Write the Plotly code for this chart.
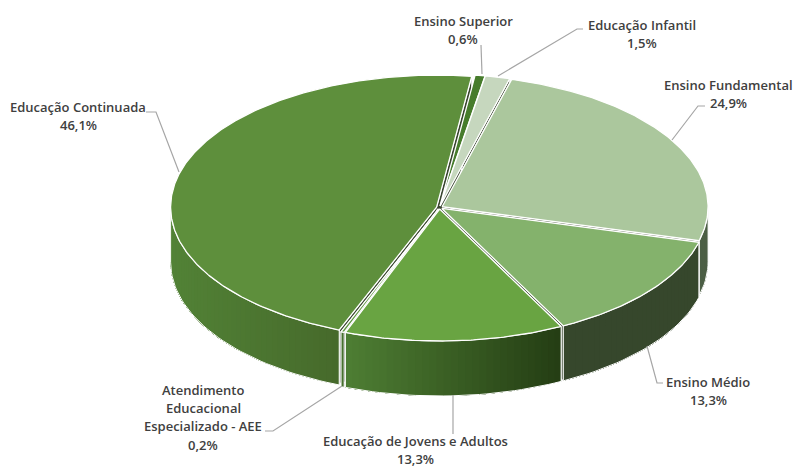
import numpy as np
import plotly.graph_objects as go

categories = ["Ensino Superior", "Educação Infantil", "Ensino Fundamental", "Ensino Médio",
              "Educação de Jovens e Adultos", "Atendimento Educacional Especializado - AEE",
              "Educação Continuada"]
values = [0.6, 1.5, 24.9, 13.3, 13.3, 0.2, 46.1]
pct_labels = ["0,6%", "1,5%", "24,9%", "13,3%", "13,3%", "0,2%", "46,1%"]
label_lines = [["Ensino Superior"], ["Educação Infantil"], ["Ensino Fundamental"], ["Ensino Médio"],
               ["Educação de Jovens e Adultos"], ["Atendimento", "Educacional", "Especializado - AEE"],
               ["Educação Continuada"]]

# style / geometry of the projected pie
top_colors = ["#477c2c", "#c6d7be", "#abc79d", "#84b26c", "#69a442", "#5f9640", "#5e8f3c"]
wall_left = ["#3a6424", "#8fa885", "#4c5f45", "#36472c", "#4e7e33", "#4a7a30", "#528236"]
wall_right = ["#3a6424", "#8fa885", "#4c5f45", "#36472c", "#243d14", "#42642a", "#466a2b"]
face_color = "#39452f"
CX, CY, RX, RY, DEPTH, EXPLODE, START = 439.5, 207.5, 266, 132, 55, 3.0, 7.6
label_pos = [(463, 21), (642, 25), (728, 85), (708, 382), (415, 440.5), (203, 390), (78, 107)]
leaders = [[(481, 45), (482, 74)], [(583, 29), (577, 29), (498, 76)],
           [(705, 106), (698, 106), (672, 140)], [(663, 383), (657, 383), (647, 346)],
           [(453, 434), (453, 395)], [(265, 431), (273, 431), (342, 386)],
           [(146, 112), (156, 112), (179, 172)]]
LINE_H = 18.2

fig = go.Figure()


def poly(xs, ys, fill, line=None, width=0.0):
    fig.add_trace(go.Scatter(x=list(xs), y=list(ys), mode="lines", fill="toself", fillcolor=fill,
                             line=dict(color=line or fill, width=width), hoverinfo="skip", showlegend=False))


def mix(a, b, t):
    ca = [int(a[i:i + 2], 16) for i in (1, 3, 5)]
    cb = [int(b[i:i + 2], 16) for i in (1, 3, 5)]
    return "#%02x%02x%02x" % tuple(round(p + (q - p) * t) for p, q in zip(ca, cb))


total = sum(values)
edges = START + np.cumsum([0] + values) * 360 / total
slices = []
for i in range(len(values)):
    a0, a1 = edges[i], edges[i + 1]
    mid = np.radians((a0 + a1) / 2)
    ox = CX + EXPLODE * np.sin(mid)
    oy = CY - EXPLODE * np.cos(mid) * RY / RX
    slices.append((i, a0, a1, ox, oy))

# painter's order: back to front
order = sorted(slices, key=lambda s: -np.cos(np.radians((s[1] + s[2]) / 2)))
for i, a0, a1, ox, oy in order:
    th = np.radians(np.linspace(a0, a1, max(int((a1 - a0) * 2), 4)))
    ex = ox + RX * np.sin(th)
    ey = oy - RY * np.cos(th)
    # cut faces
    for k in (0, -1):
        poly([ox, ex[k], ex[k], ox], [oy, ey[k], ey[k] + DEPTH, oy + DEPTH], face_color, "#ffffff", 1)
    # outer wall, front half only
    lo, hi = max(a0, 90), min(a1, 270)
    if hi > lo:
        n = max(int((hi - lo) / 1.5), 2)
        ws = np.radians(np.linspace(lo, hi, n + 1))
        wx = ox + RX * np.sin(ws)
        wy = oy - RY * np.cos(ws)
        xmin, xmax = wx.min(), wx.max()
        # each band runs to the end of the wall and is overpainted by the next: no seams
        for j in range(n):
            t = ((wx[j] + wx[j + 1]) / 2 - xmin) / max(xmax - xmin, 1)
            poly(list(wx[j:]) + list(wx[j:][::-1]),
                 list(wy[j:]) + list((wy[j:] + DEPTH)[::-1]),
                 mix(wall_left[i], wall_right[i], t))
        fig.add_trace(go.Scatter(x=list(wx) + list(wx[::-1]) + [wx[0]],
                                 y=list(wy) + list(wy[::-1] + DEPTH) + [wy[0]],
                                 mode="lines", line=dict(color="#ffffff", width=1),
                                 hoverinfo="skip", showlegend=False))

# tops are all at one level, so they go over every wall and cut face
for i, a0, a1, ox, oy in order:
    th = np.radians(np.linspace(a0, a1, max(int((a1 - a0) * 2), 4)))
    ex = ox + RX * np.sin(th)
    ey = oy - RY * np.cos(th)
    poly([ox] + list(ex) + [ox], [oy] + list(ey) + [oy], top_colors[i], "#ffffff", 1.3)

# leader lines
for seg in leaders:
    fig.add_trace(go.Scatter(x=[p[0] for p in seg], y=[p[1] for p in seg], mode="lines",
                             line=dict(color="#a6a6a6", width=1.2), hoverinfo="skip", showlegend=False))

# labels
for lines, pct, (lx, ly) in zip(label_lines, pct_labels, label_pos):
    for k, text in enumerate(lines + [pct]):
        fig.add_annotation(x=lx, y=ly + k * LINE_H, text=text, showarrow=False, xanchor="center", yanchor="middle",
                           font=dict(family="Open Sans", size=13, color="#404040", weight=600))

fig.update_layout(width=794, height=467, margin=dict(l=0, r=0, t=0, b=0),
                  paper_bgcolor="#ffffff", plot_bgcolor="#ffffff", showlegend=False,
                  xaxis=dict(range=[0, 794], visible=False, fixedrange=True),
                  yaxis=dict(range=[467, 0], visible=False, fixedrange=True))
fig.write_html("out.html", config={"displayModeBar": False},
               post_script="document.body.style.margin='0';")
